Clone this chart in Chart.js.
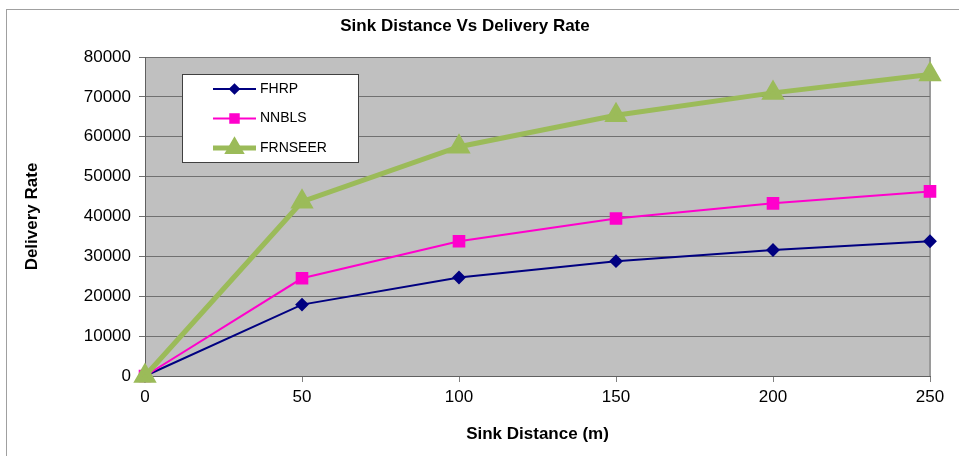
<!DOCTYPE html>
<html>
<head>
<meta charset="utf-8">
<script src="https://cdn.jsdelivr.net/npm/chart.js@4"></script>
<style>
    html, body { margin: 0; padding: 0; background: #fff; overflow: hidden; }
    #wrap { position: relative; width: 959px; height: 456px; }
    #frame { position: absolute; left: 6px; top: 9px; width: 1000px; height: 500px;
             border-left: 1px solid #a0a0a0; border-top: 1px solid #a0a0a0; }
    canvas { position: absolute; left: 0; top: 0; }
</style>
</head>
<body>
<div id="wrap">
    <div id="frame"></div>
    <canvas id="chart" width="959" height="456"></canvas>
</div>
<script>
// values
const distances = [0, 50, 100, 150, 200, 250];
const fhrp = [0, 17900, 24700, 28800, 31600, 33800];
const nnbls = [0, 24500, 33800, 39500, 43300, 46300];
const frnseer = [0, 43700, 57500, 65400, 71000, 75600];
const seriesNames = ["FHRP", "NNBLS", "FRNSEER"];
const xTicks = [0, 50, 100, 150, 200, 250];
const yTicks = [0, 10000, 20000, 30000, 40000, 50000, 60000, 70000, 80000];

const FONT = "'Liberation Sans', Arial, sans-serif";

const toPoints = (vals) => vals.map((v, i) => ({ x: distances[i], y: v }));

const plotBackground = {
    id: "plotBackground",
    beforeDraw(chart) {
        const { ctx, chartArea: a } = chart;
        ctx.save();
        ctx.fillStyle = "#c0c0c0";
        ctx.fillRect(a.left, a.top, a.right - a.left, a.bottom - a.top);
        ctx.strokeStyle = "#9a9a9a";
        ctx.lineWidth = 2;
        ctx.beginPath();
        ctx.moveTo(a.right, a.top);
        ctx.lineTo(a.right, a.bottom);
        ctx.stroke();
        ctx.restore();
    }
};

// legend box sits inside the plot, like the original
const boxLegend = {
    id: "boxLegend",
    afterDatasetsDraw(chart) {
        const ctx = chart.ctx;
        const x = 182, y = 74, w = 176, h = 88;
        ctx.save();
        ctx.fillStyle = "#ffffff";
        ctx.fillRect(x, y, w, h);
        ctx.strokeStyle = "#404040";
        ctx.lineWidth = 1;
        ctx.strokeRect(x + 0.5, y + 0.5, w, h);
        chart.data.datasets.forEach((ds, i) => {
            const ly = 89 + i * 29.5;
            ctx.strokeStyle = ds.borderColor;
            ctx.lineWidth = ds.borderWidth;
            ctx.beginPath();
            ctx.moveTo(213, ly);
            ctx.lineTo(256, ly);
            ctx.stroke();
            ctx.fillStyle = ds.pointBackgroundColor;
            ctx.strokeStyle = ds.pointBackgroundColor;
            Chart.helpers.drawPoint(ctx, {
                pointStyle: ds.pointStyle,
                radius: ds.pointRadius * 0.8,
                rotation: 0,
                borderWidth: 1
            }, 234.5, ly);
            ctx.fillStyle = "#000";
            ctx.font = "14px " + FONT;
            ctx.textBaseline = "middle";
            ctx.fillText(ds.label, 260, ly);
        });
        ctx.restore();
    }
};

new Chart(document.getElementById("chart"), {
    type: "line",
    data: {
        datasets: [
            {
                label: seriesNames[0],
                data: toPoints(fhrp),
                borderColor: "#000080",
                backgroundColor: "#000080",
                pointBackgroundColor: "#000080",
                pointBorderColor: "#000080",
                borderWidth: 2,
                pointStyle: "rectRot",
                pointRadius: 5.5,
                clip: false,
                order: 3
            },
            {
                label: seriesNames[1],
                data: toPoints(nnbls),
                borderColor: "#ff00cc",
                backgroundColor: "#ff00cc",
                pointBackgroundColor: "#ff00cc",
                pointBorderColor: "#ff00cc",
                borderWidth: 2,
                pointStyle: "rect",
                pointRadius: 7.5,
                clip: false,
                order: 2
            },
            {
                label: seriesNames[2],
                data: toPoints(frnseer),
                borderColor: "#9bbb59",
                backgroundColor: "#9bbb59",
                pointBackgroundColor: "#9bbb59",
                pointBorderColor: "#9bbb59",
                borderWidth: 5,
                pointStyle: "triangle",
                pointRadius: 8.5,
                clip: false,
                order: 1
            }
        ]
    },
    options: {
        responsive: false,
        animation: false,
        devicePixelRatio: 1,
        layout: { padding: { left: 0, right: 29, top: 0, bottom: 0 } },
        plugins: {
            legend: { display: false },
            tooltip: { enabled: false },
            title: {
                display: true,
                text: "Sink Distance Vs Delivery Rate",
                color: "#000",
                font: { family: FONT, size: 17, weight: "bold" },
                padding: { top: 16, bottom: 20.6 }
            }
        },
        scales: {
            x: {
                type: "linear",
                min: 0,
                max: 250,
                afterBuildTicks: (scale) => { scale.ticks = xTicks.map(v => ({ value: v })); },
                afterFit: (scale) => { scale.height = 80; },
                ticks: {
                    color: "#000",
                    font: { family: FONT, size: 17 },
                    padding: 5,
                    maxRotation: 0
                },
                grid: {
                    drawOnChartArea: false,
                    tickLength: 6,
                    color: "#808080"
                },
                border: { color: "#606060", width: 1 },
                title: {
                    display: true,
                    text: "Sink Distance (m)",
                    color: "#000",
                    font: { family: FONT, size: 17, weight: "bold" },
                    padding: { top: 0, bottom: 11 }
                }
            },
            y: {
                min: 0,
                max: 80000,
                afterBuildTicks: (scale) => { scale.ticks = yTicks.map(v => ({ value: v })); },
                afterFit: (scale) => { scale.width = 145; },
                ticks: {
                    color: "#000",
                    font: { family: FONT, size: 17 },
                    padding: 8,
                    callback: (v) => String(v)
                },
                grid: {
                    color: "#707070",
                    lineWidth: 1,
                    tickLength: 6
                },
                border: { color: "#606060", width: 1 },
                title: {
                    display: true,
                    text: "Delivery Rate",
                    color: "#000",
                    font: { family: FONT, size: 17, weight: "bold" },
                    padding: { top: 22, bottom: 0 }
                }
            }
        }
    },
    plugins: [plotBackground, boxLegend]
});
</script>
</body>
</html>
